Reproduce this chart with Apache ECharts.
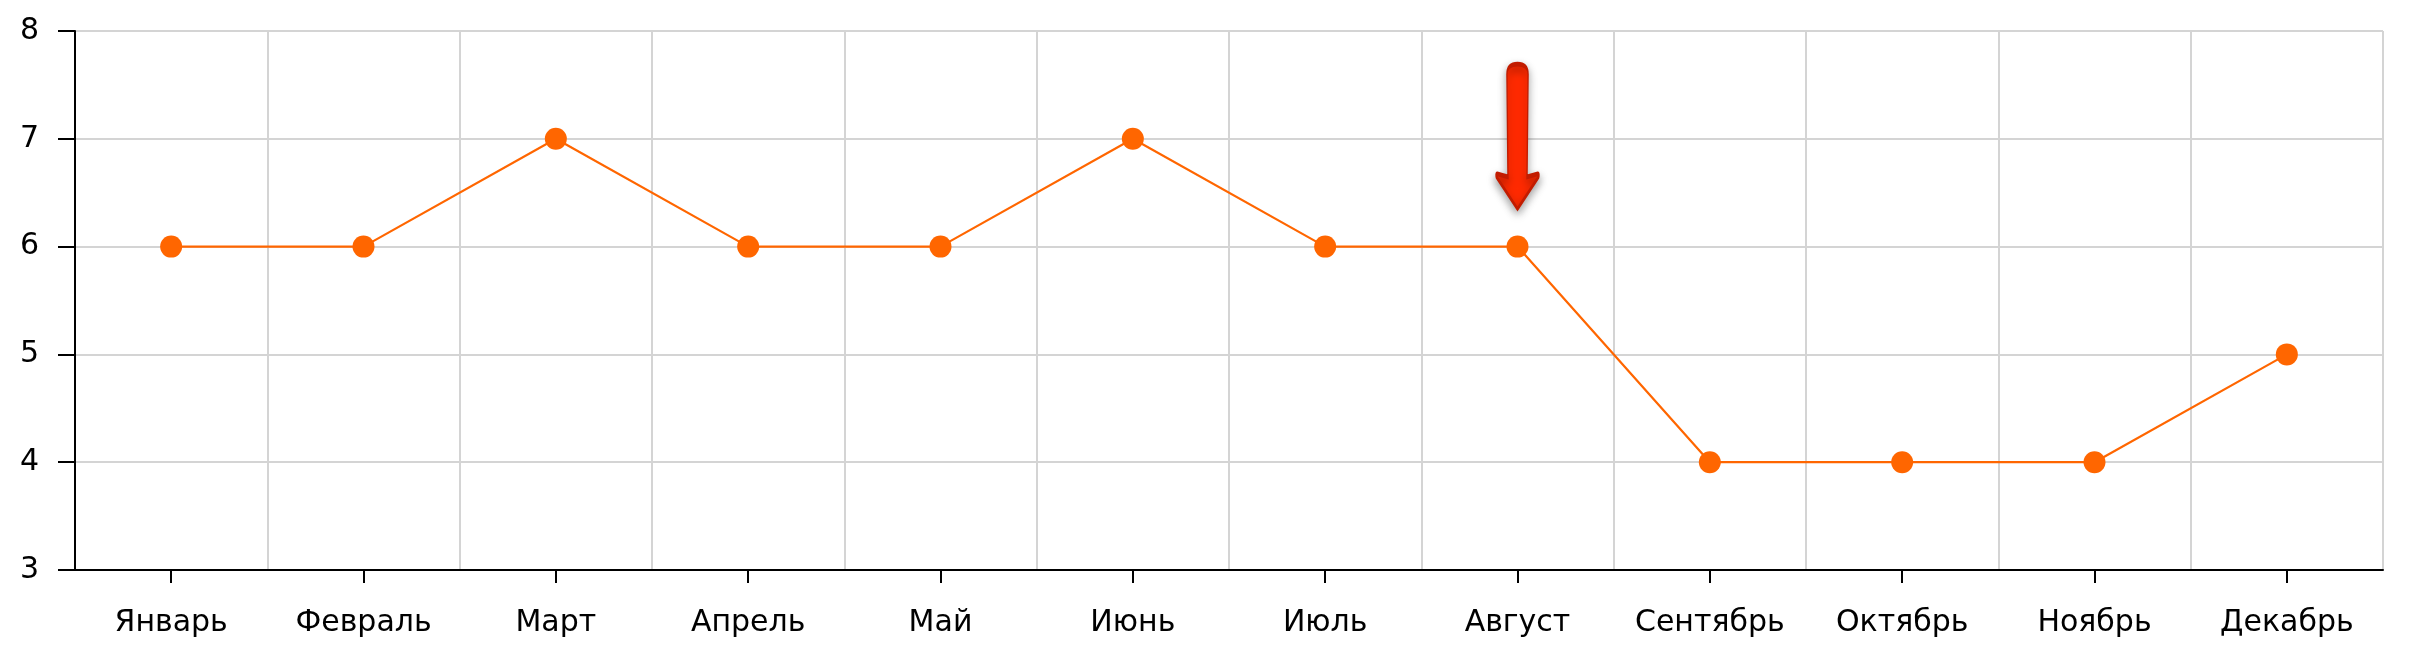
<!DOCTYPE html>
<html>
<head>
<meta charset="utf-8">
<script src="https://cdn.jsdelivr.net/npm/echarts@6/dist/echarts.min.js"></script>
<style>
html,body{margin:0;padding:0;background:#fff;}
#chart{width:2412px;height:656px;}
</style>
</head>
<body>
<div id="chart"></div>
<script>
const categories = ['Январь','Февраль','Март','Апрель','Май','Июнь','Июль','Август','Сентябрь','Октябрь','Ноябрь','Декабрь'];
const values = [6,6,7,6,6,7,6,6,4,4,4,5];
const highlightMonth = 'Август';
const yMin = 3, yMax = 8, yStep = 1;

const arrowPath = 'path://M11,10 Q11,0 21,0 Q31,0 31,10 L30,112 L40,109 Q42,109 41,112 L21,144 L1,112 Q0,109 2,109 L12,112 Z';

const chart = echarts.init(document.getElementById('chart'), null, {renderer:'canvas'});
chart.setOption({
  animation:false,
  backgroundColor:'#ffffff',
  grid:{left:75, right:29, top:31, bottom:86, containLabel:false},
  xAxis:{
    type:'category',
    data:categories,
    boundaryGap:true,
    axisLine:{show:true, lineStyle:{color:'#000', width:2}},
    axisTick:{show:true, interval:0, alignWithLabel:true, length:13, lineStyle:{color:'#000', width:2}},
    axisLabel:{interval:0, color:'#000', fontFamily:'DejaVu Sans', fontSize:30, margin:38},
    splitLine:{show:true, interval:0, lineStyle:{color:'#d4d4d4', width:2}}
  },
  yAxis:{
    type:'value',
    min:yMin, max:yMax, interval:yStep,
    axisLine:{show:true, lineStyle:{color:'#000', width:2}},
    axisTick:{show:true, length:17, lineStyle:{color:'#000', width:2}},
    axisLabel:{color:'#000', fontFamily:'DejaVu Sans', fontSize:30, margin:36},
    splitLine:{show:true, lineStyle:{color:'#d4d4d4', width:2}}
  },
  series:[{
    type:'line',
    data:values,
    symbol:'circle',
    symbolSize:22,
    lineStyle:{color:'#ff6600', width:2.2},
    itemStyle:{color:'#ff6600'},
    z:3,
    markPoint:{
      silent:true,
      data:[{
        coord:[highlightMonth, values[categories.indexOf(highlightMonth)]],
        symbol:arrowPath,
        symbolSize:[43,145],
        symbolOffset:[0,-110],
        label:{show:false},
        itemStyle:{color:'#ff2a00', borderColor:'#c21c00', borderWidth:2.5,
          shadowBlur:8, shadowColor:'rgba(0,0,0,0.35)', shadowOffsetY:4}
      }]
    }
  }]
});
</script>
</body>
</html>
